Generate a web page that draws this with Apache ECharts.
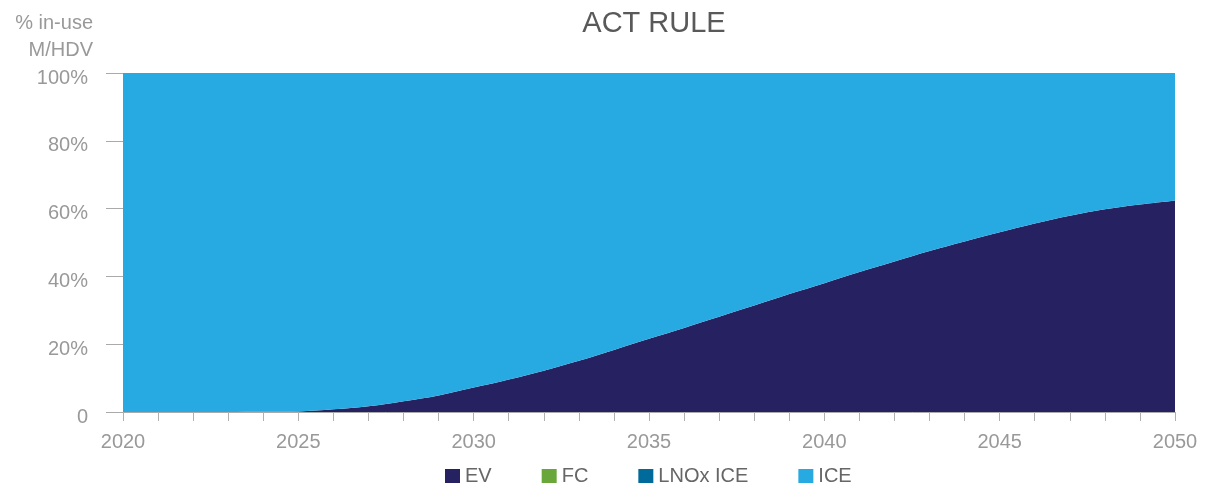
<!DOCTYPE html>
<html>
<head>
<meta charset="utf-8">
<script src="https://cdn.jsdelivr.net/npm/echarts@6/dist/echarts.min.js"></script>
<style>
html,body{margin:0;padding:0;background:#fff;}
#chart{width:1207px;height:491px;}
</style>
</head>
<body>
<div id="chart"></div>
<script>
var years = ['2020','2021','2022','2023','2024','2025','2026','2027','2028','2029','2030','2031','2032','2033','2034','2035','2036','2037','2038','2039','2040','2041','2042','2043','2044','2045','2046','2047','2048','2049','2050'];
var evShare = [0,0,0,0,0.05,0.15,0.8,1.7,3.2,4.9,7.2,9.6,12.2,15.1,18.3,21.6,24.8,28.1,31.4,34.8,38.0,41.3,44.4,47.5,50.3,53.0,55.6,57.9,59.8,61.2,62.4];
var fcShare = [0,0,0,0,0,0,0,0,0,0,0,0,0,0,0,0,0,0,0,0,0,0,0,0,0,0,0,0,0,0,0];
var lnoxShare = [0,0,0,0,0,0,0,0,0,0,0,0,0,0,0,0,0,0,0,0,0,0,0,0,0,0,0,0,0,0,0];
var iceShare = [100,100,100,100,99.95,99.85,99.2,98.3,96.8,95.1,92.8,90.4,87.8,84.9,81.7,78.4,75.2,71.9,68.6,65.2,62.0,58.7,55.6,52.5,49.7,47.0,44.4,42.1,40.2,38.8,37.6];
var yTicks = ['0','20%','40%','60%','80%','100%'];

var FONT = '"Liberation Sans", Arial, sans-serif';
var chart = echarts.init(document.getElementById('chart'));

function areaSeries(name, data, color) {
  return {
    name: name, type: 'line', stack: 'total', data: data,
    smooth: 0.35, symbol: 'none', showSymbol: false,
    lineStyle: { width: 0, color: color },
    itemStyle: { color: color },
    areaStyle: { color: color, opacity: 1 },
    emphasis: { disabled: true }
  };
}

chart.setOption({
  animation: false,
  title: {
    text: 'ACT RULE',
    left: 649, top: 4, textAlign: 'center',
    textStyle: { fontFamily: FONT, fontSize: 29, fontWeight: 'normal', color: '#595959' }
  },
  graphic: [{
    type: 'text',
    style: {
      text: '% in-use\nM/HDV', x: 93, y: 10, align: 'right',
      font: '20px "Liberation Sans", Arial, sans-serif', fill: '#999999', lineHeight: 27
    }
  }],
  legend: {
    left: 440, top: 461,
    itemWidth: 15, itemHeight: 14, itemGap: 50,
    icon: 'rect',
    textStyle: { fontFamily: FONT, fontSize: 20, color: '#666666' },
    data: ['EV','FC','LNOx ICE','ICE']
  },
  grid: { left: 123, right: 32, top: 73, bottom: 79, containLabel: false },
  xAxis: {
    type: 'category', data: years, boundaryGap: false,
    axisLine: { show: true, lineStyle: { color: '#aaaaaa', width: 1 } },
    axisTick: { show: true, interval: 0, length: 9, lineStyle: { color: '#b0b0b0' } },
    axisLabel: { interval: 4, margin: 20, fontFamily: FONT, fontSize: 20, color: '#999999' },
    splitLine: { show: false }
  },
  yAxis: {
    type: 'value', min: 0, max: 100, interval: 20,
    axisLine: { show: false },
    axisTick: { show: true, length: 17, lineStyle: { color: '#aaaaaa' } },
    axisLabel: {
      margin: 35, fontFamily: FONT, fontSize: 20, color: '#999999',
      verticalAlign: 'top', lineHeight: 10,
      formatter: function (v) { return yTicks[Math.round(v / 20)]; }
    },
    splitLine: { show: false }
  },
  series: [
    areaSeries('EV', evShare, '#262262'),
    areaSeries('FC', fcShare, '#6aa73b'),
    areaSeries('LNOx ICE', lnoxShare, '#006a9a'),
    areaSeries('ICE', iceShare, '#27aae1')
  ]
});
</script>
</body>
</html>
